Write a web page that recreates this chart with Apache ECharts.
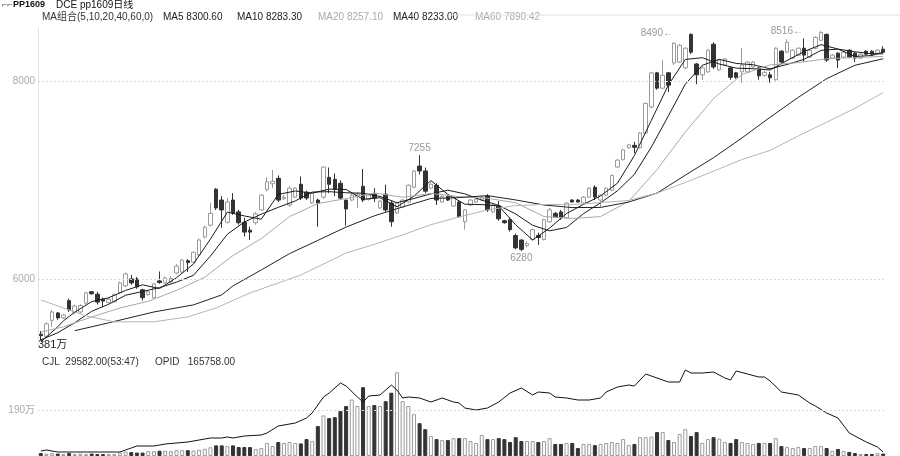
<!DOCTYPE html>
<html><head><meta charset="utf-8">
<script src="https://cdn.jsdelivr.net/npm/echarts/dist/echarts.min.js"></script>
<style>html,body{margin:0;padding:0;background:#fff}#c{width:900px;height:456px}</style>
</head><body><div id="c"></div>
<script>
// ---- data ----
const openP = [5440,5418,5580,5655,5605,5780,5660,5665,5755,5870, 5845,5795,5760,5770,5860,5930,6000,6000,5890,5840, 5810,5980,5960,5970,6060,6070,6185,6170,6245,6425, 6545,6910,6800,6575,6800,6680,6575,6495,6570,6700, 6905,6965,7020,6815,6750,6830,6960,6880,6770,6800, 6830,7030,7010,6970,6800,6800,6840,6940,6805,6860, 6720,6860,6770,6670,6730,6780,6930,7145,7095,6920, 6950,6780,6835,6740,6780,6580,6750,6780,6800,6840, 6680,6740,6590,6600,6440,6395,6340,6400,6440,6400, 6580,6665,6680,6620,6800,6800,6770,6830,6930,6800, 6850,6900,7135,7210,7330,7355,7330,7480,7745,8090, 7935,8090,8190,8200,8140,8480,8180,8070,8100,8380, 8120,8170,8140,8090,8100,8100,8150,8140,8065,8070, 8020,8310,8300,8240,8270,8340,8250,8340,8420,8480, 8240,8290,8250,8320,8290,8240,8310,8310,8290,8330];
const closeP = [5425,5544,5665,5605,5635,5686,5725,5730,5860,5850, 5765,5775,5795,5840,5960,6050,5960,5920,5810,5870, 5950,5965,6010,6005,6130,6190,6165,6270,6395,6525, 6665,6720,6700,6780,6670,6570,6475,6475,6660,6850, 6985,6990,6800,6830,6920,6920,6820,6820,6870,6770, 7135,6960,6910,6820,6710,6850,6860,6800,6850,6820, 6790,6700,6580,6770,6800,6950,7095,7095,6890,6960, 6800,6835,6800,6825,6630,6700,6800,6810,6830,6700, 6750,6610,6570,6500,6315,6300,6360,6500,6420,6600, 6700,6630,6620,6770,6780,6780,6830,6920,6830,6850, 6920,7050,7205,7310,7360,7335,7480,7780,8090,7935, 8065,7965,8390,8370,8340,8300,8070,8140,8320,8150, 8220,8230,8045,8045,8170,8200,8200,8060,8095,8040, 8340,8200,8400,8320,8340,8270,8320,8450,8500,8220, 8270,8220,8300,8250,8240,8280,8280,8280,8320,8300];
const lowP = [5381,5400,5515,5585,5595,5665,5640,5650,5740,5840, 5740,5715,5750,5760,5850,5915,5940,5900,5780,5830, 5800,5950,5950,5960,6050,6060,6070,6160,6230,6410, 6530,6700,6520,6560,6650,6550,6430,6395,6550,6690, 6890,6920,6780,6800,6730,6820,6800,6800,6760,6530, 6810,6870,6840,6800,6540,6790,6720,6780,6795,6780, 6710,6680,6530,6660,6720,6770,6920,7060,6870,6910, 6750,6770,6790,6730,6620,6500,6740,6770,6790,6680, 6670,6590,6560,6480,6300,6280,6320,6390,6345,6390, 6570,6620,6600,6610,6775,6775,6760,6820,6800,6730, 6840,6890,7125,7200,7320,7275,7320,7470,7730,7920, 7925,7895,8170,8190,8130,8280,7975,8020,8090,8130, 8110,8160,8020,8030,7990,8090,8140,8020,8050,7990, 8010,8190,8290,8230,8260,8200,8240,8330,8410,8200, 8230,8140,8240,8240,8200,8230,8270,8270,8280,8290];
const highP = [5470,5560,5686,5665,5645,5800,5740,5745,5870,5878, 5870,5810,5805,5850,5975,6065,6040,6020,5900,5880, 5960,6075,6025,6030,6150,6205,6200,6280,6410,6540, 6770,6920,6840,6820,6870,6700,6620,6530,6680,6860, 7030,7105,7050,6850,6940,6930,7040,6895,6880,6815, 7145,7130,7070,7000,6800,6870,6880,7115,6860,6920, 6800,6955,6790,6780,6810,6960,7100,7255,7130,6980, 6970,6850,6850,6840,6800,6710,6810,6820,6840,6860, 6760,6790,6600,6620,6460,6400,6380,6510,6470,6610, 6720,6680,6700,6780,6810,6810,6840,6930,6950,6860, 6930,7060,7215,7320,7370,7390,7490,7790,8100,8100, 8220,8100,8400,8380,8350,8490,8190,8160,8330,8400, 8230,8240,8150,8100,8340,8210,8210,8150,8110,8100, 8350,8320,8430,8330,8350,8440,8330,8460,8516,8490, 8280,8300,8310,8330,8300,8290,8320,8320,8330,8360];
// volume in 万
const volume = [12,10,12,10,8,12,8,10,8,10, 8,8,8,8,14,18,16,14,14,20, 20,22,22,20,24,24,24,22,26,30, 36,44,44,41,44,37,37,37,29,33, 54,41,58,54,58,54,52,70,62,124, 168,157,161,186,207,234,207,285,207,211, 207,227,262,347,227,207,173,136,111,83, 70,66,66,74,74,74,62,54,87,70, 70,74,70,58,78,62,62,62,58,62, 74,50,50,54,54,33,50,50,45,50, 54,58,54,70,45,50,78,78,80,99, 99,66,58,91,111,83,99,54,70,78, 72,58,54,70,58,54,50,54,54,54, 74,41,37,33,37,33,33,41,41,33, 21,29,21,17,12,8,8,8,12,10];
// moving averages: [day index, value]
const ma5 = [[0,5360],[3,5515],[4,5575],[6,5663],[9,5770],[12,5809],[15,5884],[18,5940],[21,5903],[24,6012],[27,6152],[30,6404],[33,6678],[36,6639],[39,6606],[42,6857],[45,6892],[48,6870],[51,6911],[54,6907],[57,6808],[60,6824],[63,6732],[66,6839],[69,6998],[72,6857],[75,6758],[78,6754],[81,6740],[84,6549],[87,6395],[90,6516],[93,6664],[96,6756],[99,6842],[102,6971],[105,7252],[108,7609],[111,7967],[114,8226],[117,8244],[120,8180],[123,8138],[126,8132],[129,8119],[132,8215],[135,8306],[138,8376],[141,8332],[144,8256],[147,8266],[149,8300]];
const ma10 = [[0,5382],[3,5455],[6,5555],[9,5672],[12,5743],[15,5835],[18,5873],[21,5912],[24,5967],[27,6037],[30,6232],[33,6454],[36,6577],[39,6657],[42,6726],[45,6791],[48,6881],[51,6885],[54,6874],[57,6869],[60,6837],[63,6773],[66,6816],[69,6863],[72,6900],[75,6863],[78,6799],[81,6746],[84,6659],[87,6544],[90,6488],[93,6522],[96,6663],[99,6771],[102,6894],[105,7061],[108,7338],[111,7653],[114,7975],[117,8167],[120,8227],[123,8186],[126,8172],[129,8131],[132,8175],[135,8227],[138,8318],[141,8331],[144,8304],[147,8284],[149,8283]];
const ma20 = [[0,5460],[4,5514],[9,5615],[14,5705],[19,5774],[24,5883],[29,6018],[34,6238],[39,6409],[44,6632],[49,6765],[54,6815],[59,6872],[64,6828],[69,6867],[74,6835],[79,6818],[84,6773],[89,6633],[94,6613],[99,6632],[104,6787],[109,7109],[114,7490],[119,7829],[124,8072],[129,8171],[134,8194],[139,8233],[144,8245],[149,8257]];
const ma40 = [[6,5475],[12,5555],[20,5665],[27,5737],[32,5838],[34,5930],[39,6091],[44,6257],[49,6391],[54,6526],[59,6640],[64,6730],[69,6816],[74,6825],[79,6845],[84,6801],[89,6750],[94,6724],[99,6725],[104,6780],[109,6871],[114,7052],[119,7230],[124,7429],[129,7640],[134,7842],[139,8031],[144,8167],[149,8233]];
const ma60 = [[0,5787],[8,5625],[13,5565],[20,5565],[26,5615],[31,5706],[37,5858],[46,6040],[54,6263],[59,6351],[64,6447],[69,6550],[74,6629],[79,6700],[84,6744],[89,6755],[94,6754],[99,6774],[104,6796],[109,6870],[114,6979],[119,7093],[124,7211],[129,7304],[134,7450],[139,7590],[144,7730],[149,7890]];
// open interest
const oi = [[0,170000],[1,174000],[3,166000],[8,166000],[14,166000],[15,174000],[17,190000],[20,190000],[22,198000],[26,206000],[30,222000],[32,222000],[33,226000],[34,222000],[36,230000],[39,234000],[40,242000],[42,270000],[45,282000],[47,302000],[48,322000],[50,386000],[51,402000],[53,442000],[54,430000],[56,386000],[57,366000],[58,390000],[60,394000],[62,434000],[63,414000],[64,382000],[65,386000],[67,382000],[69,366000],[71,382000],[72,374000],[73,366000],[74,362000],[75,342000],[77,334000],[79,342000],[81,366000],[83,402000],[85,422000],[87,394000],[88,406000],[90,402000],[91,386000],[93,382000],[95,374000],[97,374000],[99,382000],[100,406000],[102,426000],[104,434000],[105,430000],[107,478000],[109,462000],[111,446000],[113,446000],[114,494000],[115,482000],[117,482000],[119,486000],[121,462000],[122,454000],[123,490000],[125,478000],[127,466000],[128,466000],[129,450000],[131,406000],[134,394000],[136,362000],[137,350000],[139,322000],[141,302000],[143,242000],[146,206000],[148,186000],[149,165758]];
const priceTicks = [6000, 8000];
const volTicks = [190];
const peakMarks = [{i:67, kind:'high', pos:'top', suffix:''},{i:85, kind:'low', pos:'bottom', suffix:''},{i:115, kind:'high', pos:'left', suffix:'←'},{i:138, kind:'high', pos:'left', suffix:'←'}];
const titleTexts = ['PP1609', 'DCE pp1609日线'];
const maTexts = [['MA组合(5,10,20,40,60,0)','#333'],['MA5 8300.60','#222'],['MA10 8283.30','#222'],['MA20 8257.10','#aaa'],['MA40 8233.00','#222'],['MA60 7890.42','#aaa']];
const volTexts = ['CJL  29582.00(53:47)', 'OPID   165758.00', '381万'];

// ---- build ----
const days = openP.map((_, i) => String(i + 1));
const candles = openP.map((o, i) => [o, closeP[i], lowP[i], highP[i]]);
const volData = volume.map((v, i) => ({
  value: v,
  itemStyle: closeP[i] >= openP[i]
    ? {color: '#fff', borderColor: '#9a9a9a', borderWidth: 1}
    : {color: '#333', borderColor: '#333', borderWidth: 1}
}));
const FONT = '"Liberation Sans","Noto Sans CJK SC",sans-serif';
const gridLineStyle = {color: '#dcdcdc', type: [2, 2], width: 1};

const chart = echarts.init(document.getElementById('c'), null, {renderer: 'canvas'});
const maLine = (name, data, color) => ({
  name, type: 'line', data, xAxisIndex: 0, yAxisIndex: 0, symbol: 'none',
  connectNulls: true, silent: true, z: 3,
  lineStyle: {color, width: 1}
});
const maX = [42, 163, 237, 318, 393, 475];
chart.setOption({
  animation: false,
  textStyle: {fontFamily: FONT},
  grid: [
    {left: 38, right: 14, top: 28, height: 317},
    {left: 38, right: 14, top: 364, height: 92}
  ],
  xAxis: [
    {type: 'category', data: days, gridIndex: 0, boundaryGap: true, axisLine: {show: false}, axisTick: {show: false}, axisLabel: {show: false}, splitLine: {show: false}},
    {type: 'category', data: days, gridIndex: 1, boundaryGap: true, axisLine: {show: false}, axisTick: {show: false}, axisLabel: {show: false}, splitLine: {show: false}}
  ],
  yAxis: [
    {type: 'value', gridIndex: 0, min: 5330, max: 8545, axisLine: {show: true, lineStyle: {color: '#e2e2e2'}}, axisTick: {show: false}, axisLabel: {show: false}, splitLine: {show: false}},
    {type: 'value', gridIndex: 1, min: 0, max: 381, axisLine: {show: false}, axisTick: {show: false}, axisLabel: {show: false}, splitLine: {show: false}},
    {type: 'value', gridIndex: 1, min: 150000, max: 518000, show: false, splitLine: {show: false}}
  ],
  series: [
    {
      name: 'K', type: 'candlestick', data: candles, xAxisIndex: 0, yAxisIndex: 0,
      barWidth: 4,
      itemStyle: {color: '#fff', color0: '#333', borderColor: '#9a9a9a', borderColor0: '#333', borderWidth: 1},
      markLine: {
        silent: true, symbol: 'none',
        lineStyle: gridLineStyle,
        label: {position: 'start', color: '#aaa', fontSize: 10, fontFamily: FONT, distance: 3, formatter: p => String(p.value)},
        data: priceTicks.map(v => ({yAxis: v}))
      },
      markPoint: {
        symbol: 'circle', symbolSize: 0, silent: true,
        data: peakMarks.map(m => {
          const v = m.kind === 'high' ? highP[m.i] : lowP[m.i];
          return {
            coord: [m.i, v], value: v,
            label: {show: true, position: m.pos, distance: m.pos === 'left' ? 18 : 2, color: '#999', fontSize: 10, fontFamily: FONT, formatter: String(v) + m.suffix}
          };
        })
      }
    },
    maLine('MA5', ma5, '#1a1a1a'),
    maLine('MA10', ma10, '#1a1a1a'),
    maLine('MA20', ma20, '#a8a8a8'),
    maLine('MA40', ma40, '#222'),
    maLine('MA60', ma60, '#b4b4b4'),
    {
      name: 'VOL', type: 'bar', data: volData, xAxisIndex: 1, yAxisIndex: 1, barWidth: 4,
      markLine: {
        silent: true, symbol: 'none', lineStyle: gridLineStyle,
        label: {position: 'start', color: '#aaa', fontSize: 10, fontFamily: FONT, distance: 3, formatter: p => p.value + '万'},
        data: volTicks.map(v => ({yAxis: v}))
      }
    },
    {
      name: 'OI', type: 'line', data: oi, xAxisIndex: 1, yAxisIndex: 2, symbol: 'none', silent: true, z: 4,
      lineStyle: {color: '#111', width: 1}
    }
  ],
  graphic: [
    {type: 'text', left: 2, top: 0, style: {text: '⌐⌐', fill: '#444', font: '9px ' + FONT}},
    {type: 'text', left: 13, top: 0, style: {text: titleTexts[0], fill: '#111', font: 'bold 9px ' + FONT}},
    {type: 'text', left: 56, top: 0, style: {text: titleTexts[1], fill: '#111', font: '10px ' + FONT}},
    ...maTexts.map((t, k) => ({type: 'text', left: maX[k], top: 12, style: {text: t[0], fill: t[1], font: '10px ' + FONT}})),
    {type: 'line', shape: {x1: 450, y1: 15, x2: 900, y2: 15}, style: {stroke: '#e0e0e0', lineWidth: 1}},
    {type: 'text', left: 42, top: 357, style: {text: volTexts[0], fill: '#333', font: '10px ' + FONT}},
    {type: 'text', left: 155, top: 357, style: {text: volTexts[1], fill: '#333', font: '10px ' + FONT}},
    {type: 'text', left: 38, top: 339, style: {text: volTexts[2], fill: '#222', font: '11px ' + FONT}}
  ]
});
</script>
</body></html>
